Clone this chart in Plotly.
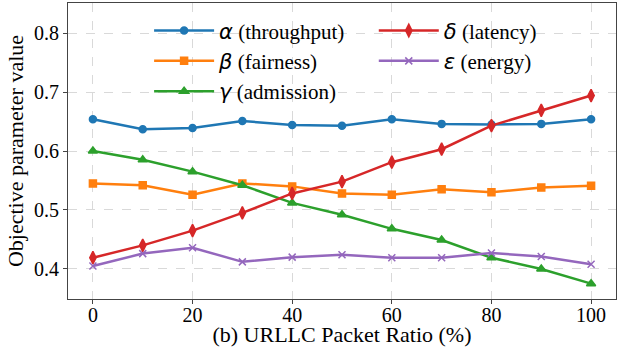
import plotly.graph_objects as go

x_ratio = [0, 10, 20, 30, 40, 50, 60, 70, 80, 90, 100]
alpha = [0.654, 0.637, 0.639, 0.651, 0.644, 0.643, 0.654, 0.646, 0.645, 0.646, 0.654]
beta = [0.545, 0.542, 0.526, 0.545, 0.540, 0.528, 0.526, 0.535, 0.530, 0.538, 0.541]
gamma = [0.600, 0.585, 0.565, 0.542, 0.512, 0.492, 0.468, 0.449, 0.419, 0.400, 0.375]
delta = [0.419, 0.440, 0.465, 0.495, 0.528, 0.548, 0.581, 0.603, 0.643, 0.669, 0.694]
epsilon = [0.405, 0.426, 0.436, 0.412, 0.420, 0.424, 0.419, 0.419, 0.427, 0.421, 0.408]

names = ["α", "β", "γ", "δ", "ε"]
labels = ["(throughput)", "(fairness)", "(admission)", "(latency)", "(energy)"]
series = [alpha, beta, gamma, delta, epsilon]
colors = ["#1f77b4", "#ff7f0e", "#2ca02c", "#d62728", "#9467bd"]
symbols = ["circle", "square", "triangle-up", "diamond-tall", "x-thin"]
sizes = [7, 7, 8, 9, 7]
legends = ["legend", "legend", "legend", "legend2", "legend2"]

fig = go.Figure()
for n, lab, s, c, sym, sz, lg in zip(names, labels, series, colors, symbols, sizes, legends):
    fig.add_trace(go.Scatter(
        x=x_ratio, y=s, mode="lines+markers",
        name=('<span style="font-family:\'DejaVu Sans\'"><i>' + n + '</i></span>'
              '<span style="font-family:\'Liberation Serif\'"> ' + lab + '</span>'),
        line=dict(color=c, width=2.5),
        marker=dict(symbol=sym, size=sz, color=c, line=dict(color=c, width=1.5)),
        legend=lg,
    ))

font = "Liberation Serif"
tf = dict(family=font, size=20, color="black")
ttf = dict(family=font, size=22, color="black")
lf = dict(family=font, size=21, color="black")
fig.update_layout(
    width=618, height=347,
    margin=dict(l=68, r=2, t=3, b=48, autoexpand=False),
    plot_bgcolor="white", paper_bgcolor="white",
    font=dict(family=font, size=20, color="black"),
    showlegend=True,
    legend=dict(x=0.148, y=0.975, xanchor="left", yanchor="top", bgcolor="rgba(0,0,0,0)",
                font=lf, tracegroupgap=0, itemwidth=60),
    legend2=dict(x=0.558, y=0.975, xanchor="left", yanchor="top", bgcolor="rgba(0,0,0,0)",
                 font=lf, tracegroupgap=0, itemwidth=60),
    xaxis=dict(range=[-5, 105], tickvals=[0, 20, 40, 60, 80, 100], tickfont=tf,
               automargin=False,
               title=dict(text="(b) URLLC Packet Ratio (%)", standoff=7, font=ttf),
               showgrid=True, gridcolor="#d9d9d9", griddash="dash", gridwidth=1,
               showline=True, linecolor="#444", linewidth=1.2, mirror=True,
               ticks="outside", ticklen=4, tickcolor="#444", zeroline=False),
    yaxis=dict(range=[0.349, 0.851], tickvals=[0.4, 0.5, 0.6, 0.7, 0.8], tickfont=tf,
               automargin=False,
               title=dict(text="Objective parameter value", standoff=4, font=ttf),
               showgrid=True, gridcolor="#d9d9d9", griddash="dash", gridwidth=1,
               showline=True, linecolor="#444", linewidth=1.2, mirror=True,
               ticks="outside", ticklen=4, tickcolor="#444", zeroline=False),
)
try:
    fig.update_xaxes(ticklabelstandoff=-6)
except Exception:
    pass

fig.write_html("out.html", config={"displayModeBar": False},
               post_script="document.body.style.margin='0';document.body.style.overflow='hidden';")
